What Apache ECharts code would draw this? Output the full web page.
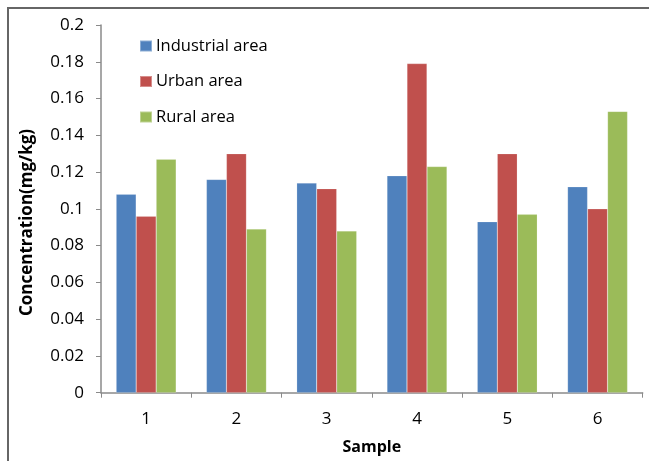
<!DOCTYPE html>
<html>
<head>
<meta charset="utf-8">
<script src="https://cdn.jsdelivr.net/npm/echarts@6/dist/echarts.min.js"></script>
<style>html,body{margin:0;padding:0;background:#fff}#c{width:649px;height:461px}</style>
</head>
<body>
<div id="c"></div>
<script>
var categories = ['1', '2', '3', '4', '5', '6'];
var industrial = [0.108, 0.116, 0.114, 0.118, 0.093, 0.112];
var urban = [0.096, 0.130, 0.111, 0.179, 0.130, 0.100];
var rural = [0.127, 0.089, 0.088, 0.123, 0.097, 0.153];
var seriesNames = ['Industrial area', 'Urban area', 'Rural area'];
var yTicks = { min: 0, max: 0.2, interval: 0.02 };

var chart = echarts.init(document.getElementById('c'), null, { renderer: 'canvas' });
var font = '"Open Sans", "Liberation Sans", sans-serif';
var axisColor = '#8a8a8a';
function bar(name, data, color) {
  return {
    name: name, type: 'bar', data: data, barWidth: 20, barGap: '0%',
    itemStyle: { color: color, borderColor: 'rgba(255,255,255,0.35)', borderWidth: 0.5 }
  };
}
chart.setOption({
  animation: false,
  backgroundColor: '#fff',
  grid: { left: 101, top: 25, right: 6.3, bottom: 68.3, containLabel: false },
  graphic: [
    { type: 'rect', shape: { x: 8, y: 8, width: 700, height: 500 }, style: { fill: 'none', stroke: '#666', lineWidth: 2 }, z: 0 },
    { type: 'text', x: 27, y: 222.5, rotation: Math.PI / 2,
      style: { text: 'Concentration(mg/kg)', font: 'bold 17px ' + font, fill: '#000', align: 'center', verticalAlign: 'middle' } }
  ],
  legend: {
    orient: 'vertical', left: 139, top: 37.5, padding: 0,
    itemWidth: 12, itemHeight: 11, itemGap: 18.5,
    icon: 'rect',
    textStyle: { fontFamily: font, fontSize: 16.5, color: '#000', lineHeight: 16, padding: [0, 0, 0, -1] },
    data: seriesNames
  },
  xAxis: {
    type: 'category', data: categories,
    name: 'Sample', nameLocation: 'middle', nameGap: 47,
    nameTextStyle: { fontFamily: font, fontSize: 16, fontWeight: 'bold', color: '#000' },
    axisLine: { lineStyle: { color: axisColor, width: 1.5 } },
    axisTick: { show: true, length: 5, lineStyle: { color: axisColor } },
    axisLabel: { fontFamily: font, fontSize: 17, color: '#000', margin: 18 }
  },
  yAxis: {
    type: 'value', min: yTicks.min, max: yTicks.max, interval: yTicks.interval,
    axisLine: { show: true, lineStyle: { color: axisColor, width: 1.5 } },
    axisTick: { show: true, length: 5, lineStyle: { color: axisColor } },
    splitLine: { show: false },
    axisLabel: { fontFamily: font, fontSize: 17, color: '#000', margin: 17,
      formatter: function (v) { return String(Math.round(v * 100) / 100); } }
  },
  series: [
    bar(seriesNames[0], industrial, '#4F81BD'),
    bar(seriesNames[1], urban, '#C0504D'),
    bar(seriesNames[2], rural, '#9BBB59')
  ]
});
</script>
</body>
</html>
